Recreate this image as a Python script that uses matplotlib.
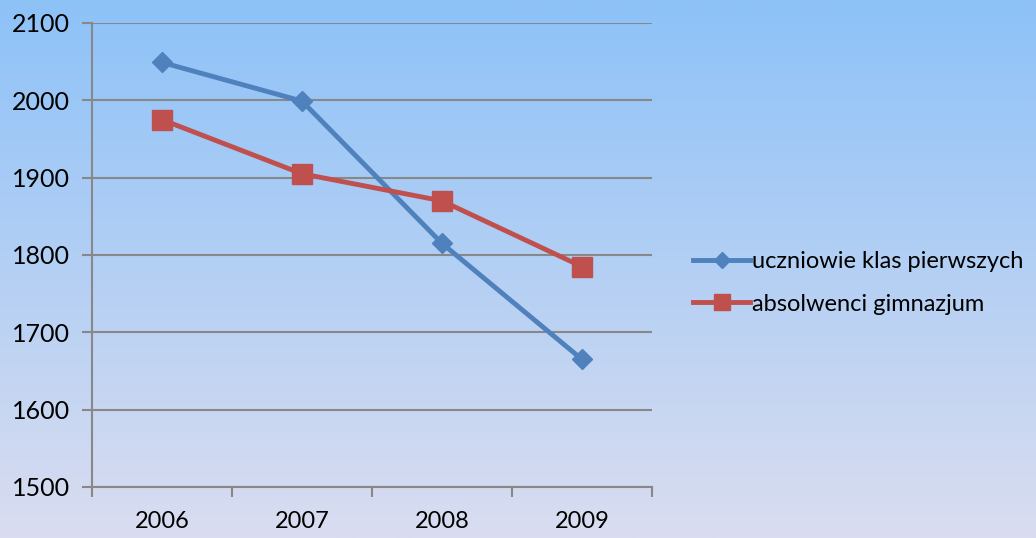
import numpy as np
import matplotlib.pyplot as plt
from matplotlib.colors import LinearSegmentedColormap

plt.rcParams['font.family'] = ['Lato', 'DejaVu Sans']

years = ["2006", "2007", "2008", "2009"]
uczniowie = [2049, 1999, 1815, 1665]
absolwenci = [1975, 1905, 1870, 1785]
labels = ["uczniowie klas pierwszych", "absolwenci gimnazjum"]

fig = plt.figure(figsize=(10.36, 5.38), dpi=100)

# gradient background
bg = fig.add_axes([0, 0, 1, 1], zorder=-1)
cmap = LinearSegmentedColormap.from_list("bg", ["#8DC2F8", "#DADDF0"])
bg.imshow(np.linspace(0, 1, 256).reshape(-1, 1), aspect="auto", cmap=cmap,
          extent=[0, 1, 0, 1])
bg.axis("off")

ax = fig.add_axes([92 / 1036, 1 - 487 / 538, 560 / 1036, 464 / 538])
ax.patch.set_alpha(0)

x = np.arange(len(years))
ax.plot(x, uczniowie, color="#4F81BD", lw=3.5, marker="D", ms=10,
        label=labels[0], zorder=3)
ax.plot(x, absolwenci, color="#C0504D", lw=3.5, marker="s", ms=14,
        label=labels[1], zorder=3)

ax.set_xlim(-0.5, 3.5)
ax.set_ylim(1500, 2100)
ax.set_yticks(range(1500, 2101, 100))
ax.set_xticks(x)
ax.set_xticklabels(years)
ax.set_xticks(np.arange(-0.5, 4, 1), minor=True)
ax.tick_params(axis="x", which="major", length=0, pad=17, labelsize=17)
ax.tick_params(axis="x", which="minor", length=7, width=1.5, color="#888888")
ax.tick_params(axis="y", length=7, width=1.5, color="#888888", pad=9,
               labelsize=18)
ax.grid(axis="y", color="#888888", lw=1.5)
ax.set_axisbelow(True)
for s in ["top", "right"]:
    ax.spines[s].set_visible(False)
for s in ["left", "bottom"]:
    ax.spines[s].set_color("#888888")
    ax.spines[s].set_linewidth(1.5)

fig.legend(loc="center left", bbox_to_anchor=(672 / 1036, 1 - 283 / 538),
           frameon=False, fontsize=17, handlelength=2.4, handletextpad=0.1,
           labelspacing=0.9, markerscale=0.85)

fig.savefig("out.png", dpi=100)
